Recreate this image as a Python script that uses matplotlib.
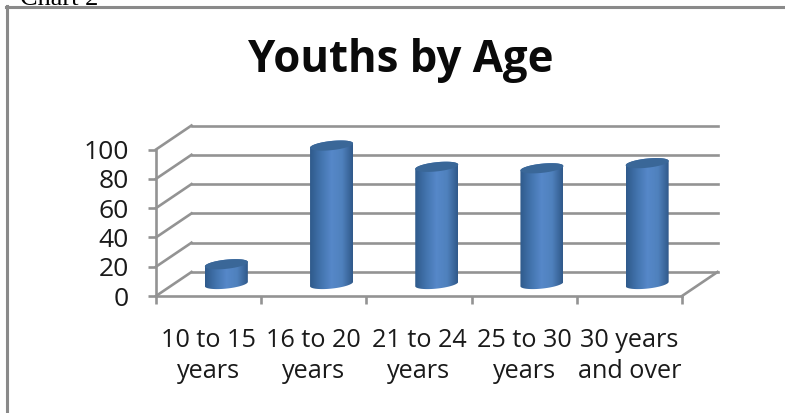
import numpy as np
import matplotlib
matplotlib.use('Agg')
import matplotlib.pyplot as plt
from matplotlib.colors import LinearSegmentedColormap
from matplotlib.lines import Line2D
from matplotlib.patches import Polygon

categories = ['10 to 15\nyears', '16 to 20\nyears', '21 to 24\nyears', '25 to 30\nyears', '30 years\nand over']
values = [13.5, 94.5, 80, 79, 82.5]
yticks = [0, 20, 40, 60, 80, 100]

W, H = 785, 413
plt.rcParams['font.family'] = ['Open Sans', 'DejaVu Sans']
fig = plt.figure(figsize=(W / 100, H / 100), dpi=100)

# front plane of the fake 3d box, in pixels
left, right, bottom, top = 156, 682, 296, 149.5
ax = fig.add_axes([left / W, 1 - bottom / H, (right - left) / W, (bottom - top) / H])
ax.set_xlim(0, len(categories))
ax.set_ylim(0, 100)
ax.patch.set_alpha(0)
for s in ['top', 'right']:
    ax.spines[s].set_visible(False)

gray = '#939393'
lw = 1.9
for s in ['left', 'bottom']:
    ax.spines[s].set_color(gray)
    ax.spines[s].set_linewidth(lw)

# depth of the box in data units
dx = 35.5 / ((right - left) / len(categories))
dy = 24 / ((bottom - top) / 100)

for v in yticks:
    ax.plot([0, dx], [v, v + dy], color=gray, lw=lw, clip_on=False, zorder=1)
    ax.plot([dx, len(categories) + dx], [v + dy, v + dy], color=gray, lw=lw, clip_on=False, zorder=1)
ax.plot([len(categories), len(categories) + dx], [0, dy], color=gray, lw=lw, clip_on=False, zorder=1)

ax.set_yticks(yticks)
ax.set_xticks(range(len(categories) + 1))
ax.set_xticklabels([])
ax.tick_params(axis='both', length=6, width=lw, color=gray, labelsize=19, labelcolor='#1a1a1a')
ax.tick_params(axis='y', pad=13.5)

for i, c in enumerate(categories):
    ax.annotate(c, (i + 0.5, 0), xytext=(0, -23), textcoords='offset points', ha='center', va='top',
                fontsize=18.2, color='#1a1a1a', linespacing=1.3, annotation_clip=False)

# cylinders
cmap = LinearSegmentedColormap.from_list('cyl', ['#2f5a8b', '#4273ad', '#5688c9', '#4f81bd', '#30598a'])
grad = np.linspace(0, 1, 128).reshape(1, -1)
rx = 21.5 / ((right - left) / len(categories))
ry = 4.6 / ((bottom - top) / 100)
tilt = 2.2 / ((bottom - top) / 100)
base = 12 / ((bottom - top) / 100)
t = np.linspace(0, np.pi, 60)

for i, v in enumerate(values):
    cx = i + 0.5 + dx / 2
    # body: lower arc of the base, upper arc of the top
    xb = cx - rx * np.cos(t)
    yb = base - ry * np.sin(t) - tilt * np.cos(t)
    xt = cx + rx * np.cos(t)
    yt = base + v + ry * np.sin(t) + tilt * np.cos(t)
    body = Polygon(np.c_[np.r_[xb, xt], np.r_[yb, yt]], closed=True, transform=ax.transData,
                   fc='none', ec='none')
    ax.add_patch(body)
    im = ax.imshow(grad, cmap=cmap, extent=[cx - rx, cx + rx, 0, 125], aspect='auto',
                   interpolation='bilinear', zorder=3)
    im.set_clip_box(fig.bbox)  # tall bar pokes above the axes
    im.set_clip_path(body)
    # top face
    tt = np.linspace(0, 2 * np.pi, 120)
    ax.fill(cx + rx * np.cos(tt), base + v + ry * np.sin(tt) + tilt * np.cos(tt), color='#3a6798', lw=0,
            zorder=4, clip_on=False)

ax.set_xlim(0, len(categories))
ax.set_ylim(0, 100)

fig.text(401 / W, 1 - 72 / H, 'Youths by Age', ha='center', va='baseline', fontsize=31.5,
         fontweight='bold', color='#0a0a0a')
fig.text(20 / W, 1 - 5 / H, 'Chart 2', ha='left', va='baseline', fontsize=19,
         family=['Liberation Serif'], color='black')

# outer frame of the pasted chart
fig.add_artist(Line2D([7 / W, 7 / W], [0, 1 - 6 / H], color='#8a8a8a', lw=2.2))
fig.add_artist(Line2D([6 / W, 1], [1 - 6.5 / H, 1 - 6.5 / H], color='#8a8a8a', lw=2.2))

fig.savefig('out.png', dpi=100)
